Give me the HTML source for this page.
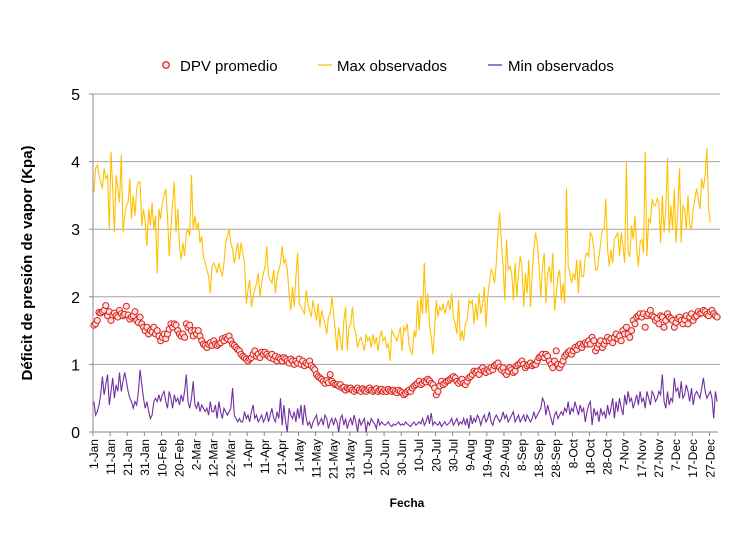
<!DOCTYPE html>
<html><head><meta charset="utf-8"><style>
body{margin:0;background:#fff;}
svg{display:block;font-family:"Liberation Sans","DejaVu Sans",sans-serif;}
</style></head><body>
<svg id="chart" width="732" height="538">
<g id="grid"></g>
<g id="yticks"></g>
<g id="xticks"></g>
<g id="series"></g>
<text x="32" y="263" transform="rotate(-90 32 263)" text-anchor="middle" font-size="15" font-weight="bold">Déficit de presión de vapor (Kpa)</text>
<text x="407" y="507" text-anchor="middle" font-size="12" font-weight="bold">Fecha</text>
<g>
<g><circle cx="166" cy="65" r="3.3" fill="#fde0dc" stroke="#d8201c" stroke-width="1.2"/><text x="180" y="71" font-size="15">DPV promedio</text></g>
<g><line x1="318" y1="65" x2="332" y2="65" stroke="#ffc000" stroke-width="1.3"/><text x="337" y="71" font-size="15">Max observados</text></g>
<g><line x1="488" y1="65" x2="502" y2="65" stroke="#7030a0" stroke-width="1.3"/><text x="508" y="71" font-size="15">Min observados</text></g>
</g>
</svg>
<script>
const yTicks=[0,1,2,3,4,5];
const xLabels=["1-Jan","11-Jan","21-Jan","31-Jan","10-Feb","20-Feb","2-Mar","12-Mar","22-Mar","1-Apr","11-Apr","21-Apr","1-May","11-May","21-May","31-May","10-Jun","20-Jun","30-Jun","10-Jul","20-Jul","30-Jul","9-Aug","19-Aug","29-Aug","8-Sep","18-Sep","28-Sep","8-Oct","18-Oct","28-Oct","7-Nov","17-Nov","27-Nov","7-Dec","17-Dec","27-Dec"];
const maxObs=[3.55,3.9,3.95,3.8,3.7,3.6,3.9,3.75,3.8,3.0,
4.15,3.6,2.95,3.8,3.6,3.4,4.1,2.95,3.2,3.35,
3.4,3.75,3.15,3.5,3.2,3.6,3.7,3.7,3.05,3.3,
3.1,2.75,3.3,3.05,3.4,3.0,3.2,2.35,3.3,3.15,
3.4,3.5,3.6,3.2,2.6,3.0,3.4,3.7,2.95,3.3,
2.75,2.55,2.8,2.6,2.95,3.0,2.9,3.8,3.0,3.2,
3.0,3.1,2.8,2.9,2.6,2.5,2.4,2.3,2.05,2.45,
2.5,2.45,2.35,2.5,2.4,2.3,2.5,2.8,2.9,3.0,
2.8,2.7,2.5,2.65,2.8,2.55,2.8,2.65,2.5,1.9,
2.1,2.25,1.85,2.0,2.1,2.2,2.35,2.0,2.2,2.35,
2.45,2.75,2.3,2.25,2.2,2.4,2.05,2.3,2.4,2.5,
2.75,2.5,2.55,2.4,2.05,1.8,2.15,1.85,2.3,2.65,
1.9,1.85,1.8,1.75,2.1,1.9,1.8,1.7,1.95,1.8,
1.65,1.9,1.55,1.8,1.7,1.6,1.45,1.7,1.75,2.0,
1.75,1.5,1.2,1.55,1.35,1.2,1.65,1.85,1.2,1.55,
1.6,1.85,1.55,1.45,1.25,1.35,1.4,1.3,1.2,1.45,
1.35,1.4,1.25,1.45,1.3,1.4,1.2,1.4,1.5,1.35,
1.4,1.25,1.3,1.05,1.5,1.45,1.4,1.35,1.45,1.55,
1.2,1.55,1.5,1.6,1.3,1.2,1.15,1.5,1.4,1.95,
1.5,2.0,1.75,2.5,1.75,2.05,1.6,1.4,1.15,1.55,
1.95,1.7,1.85,1.8,1.9,1.75,1.85,1.95,1.8,2.05,
1.7,1.6,1.45,1.95,1.35,1.5,1.35,1.6,1.65,1.95,
1.9,1.95,1.6,1.9,1.65,2.05,1.75,1.9,2.15,1.55,
2.0,2.2,2.4,2.35,2.2,2.5,2.95,3.25,2.8,2.45,
1.95,2.85,2.4,2.45,2.35,1.95,2.5,2.0,2.35,2.6,
2.45,1.85,2.35,2.05,2.55,1.85,2.35,2.7,2.95,2.8,
2.45,2.0,2.45,2.65,1.9,2.35,2.45,2.2,2.65,1.8,
2.05,2.3,2.4,1.95,2.2,1.9,3.6,2.45,2.35,2.2,
2.35,2.25,2.55,2.05,2.55,2.3,
2.3,2.6,2.65,2.6,2.95,2.9,2.7,2.4,2.4,2.6,
2.8,3.0,3.0,3.45,2.7,2.45,2.7,2.5,2.85,2.9,
2.95,2.6,2.95,2.75,2.5,4.0,2.65,2.6,3.05,2.85,
3.2,2.7,2.45,2.8,2.85,2.65,4.15,2.6,3.15,3.1,
3.45,3.35,3.35,3.45,3.4,2.8,3.5,2.95,3.3,4.05,
2.95,3.35,3.0,3.6,2.8,3.3,3.9,2.8,3.35,3.3,
3.0,3.5,3.05,3.0,3.3,3.45,3.6,3.45,3.3,3.75,
3.6,3.8,4.2,3.3,3.1];
const dpvAvg=[1.58,1.6,1.65,1.77,1.76,1.78,1.8,1.87,1.72,1.78,
1.65,1.73,1.76,1.72,1.7,1.8,1.75,1.72,1.74,1.86,
1.73,1.67,1.7,1.72,1.78,1.65,1.62,1.7,1.6,1.55,
1.5,1.55,1.45,1.5,1.48,1.55,1.45,1.5,1.42,1.35,
1.4,1.45,1.38,1.45,1.52,1.6,1.55,1.6,1.58,1.5,
1.45,1.42,1.45,1.4,1.6,1.55,1.58,1.5,1.42,1.5,
1.45,1.5,1.42,1.35,1.3,1.28,1.25,1.3,1.32,1.28,
1.35,1.3,1.28,1.3,1.32,1.38,1.35,1.4,1.38,1.42,
1.35,1.3,1.28,1.25,1.22,1.2,1.15,1.12,1.1,1.08,
1.05,1.08,1.1,1.15,1.2,1.12,1.15,1.1,1.18,1.15,
1.18,1.15,1.12,1.1,1.15,1.08,1.12,1.05,1.1,1.08,
1.05,1.1,1.08,1.05,1.02,1.08,1.05,1.0,1.05,1.02,
1.08,1.0,1.05,0.98,1.02,1.0,1.05,0.98,0.95,0.92,
0.85,0.82,0.8,0.78,0.75,0.72,0.76,0.73,0.85,0.75,
0.72,0.7,0.7,0.68,0.7,0.65,0.66,0.62,0.65,0.64,
0.65,0.62,0.6,0.63,0.65,0.62,0.6,0.64,0.62,0.6,
0.63,0.65,0.62,0.6,0.62,0.64,0.6,0.62,0.63,0.6,
0.62,0.6,0.63,0.61,0.6,0.62,0.6,0.58,0.62,0.6,
0.58,0.55,0.57,0.6,0.62,0.6,0.65,0.68,0.7,0.72,
0.75,0.7,0.72,0.75,0.74,0.78,0.76,0.72,0.7,0.65,
0.55,0.6,0.68,0.75,0.7,0.72,0.75,0.76,0.78,0.8,
0.82,0.8,0.75,0.72,0.75,0.78,0.72,0.7,0.75,0.8,
0.82,0.85,0.9,0.88,0.9,0.85,0.92,0.95,0.9,0.88,
0.92,0.9,0.95,0.92,0.98,1.0,1.02,0.96,0.92,0.95,
0.88,0.85,0.9,0.95,0.92,0.88,0.9,0.98,1.0,1.02,
1.05,1.0,0.95,0.98,1.0,1.02,0.98,1.0,1.0,1.05,
1.1,1.12,1.15,1.1,1.15,1.12,1.05,1.0,0.95,1.05,
1.2,1.0,0.95,1.0,1.05,1.12,1.15,1.18,1.2,1.15,
1.2,1.25,1.22,1.28,1.3,1.25,1.3,1.32,1.3,1.35,
1.3,1.4,1.35,1.2,1.25,1.3,1.35,1.25,1.3,1.35,
1.4,1.35,1.38,1.32,1.4,1.45,1.38,1.42,1.35,1.5,
1.45,1.55,1.45,1.4,1.5,1.65,1.6,1.7,1.72,1.75,
1.7,1.75,1.55,1.72,1.75,1.8,1.72,1.7,1.65,1.68,
1.6,1.72,1.7,1.55,1.65,1.75,1.7,1.68,1.65,1.55,
1.62,1.68,1.7,1.65,1.6,1.66,1.72,1.6,1.7,1.75,
1.65,1.7,1.72,1.78,1.75,1.76,1.8,1.78,1.74,1.72,
1.78,1.8,1.75,1.72,1.7];
const minObs=[0.45,0.25,0.3,0.4,0.55,0.82,0.55,0.7,0.85,0.4,
0.6,0.8,0.5,0.7,0.6,0.88,0.6,0.75,0.88,0.75,
0.6,0.5,0.45,0.35,0.45,0.4,0.6,0.92,0.7,0.5,
0.35,0.45,0.3,0.2,0.25,0.45,0.5,0.45,0.55,0.45,
0.55,0.6,0.45,0.35,0.6,0.5,0.35,0.55,0.45,0.5,
0.4,0.55,0.45,0.6,0.85,0.45,0.35,0.5,0.75,0.4,
0.35,0.45,0.3,0.4,0.35,0.3,0.35,0.25,0.45,0.3,
0.3,0.4,0.2,0.45,0.3,0.2,0.35,0.3,0.25,0.3,
0.35,0.65,0.25,0.2,0.15,0.2,0.15,0.15,0.3,0.2,
0.25,0.15,0.3,0.4,0.2,0.25,0.15,0.2,0.25,0.15,
0.2,0.3,0.15,0.25,0.35,0.2,0.15,0.3,0.2,0.5,
0.1,0.4,0.15,0.0,0.35,0.25,0.2,0.3,0.15,0.35,
0.2,0.4,0.1,0.4,0.2,0.1,0.15,0.05,0.15,0.2,
0.25,0.1,0.15,0.2,0.1,0.25,0.2,0.05,0.15,0.2,
0.1,0.2,0.15,0.0,0.2,0.25,0.1,0.2,0.05,0.15,
0.2,0.1,0.25,0.15,0.0,0.2,0.1,0.15,0.2,0.0,
0.15,0.1,0.2,0.15,0.12,0.05,0.2,0.1,0.15,0.12,
0.1,0.12,0.15,0.1,0.08,0.12,0.1,0.12,0.15,0.1,
0.12,0.1,0.15,0.12,0.1,0.08,0.12,0.15,0.1,0.12,
0.15,0.12,0.2,0.1,0.15,0.25,0.12,0.28,0.1,0.15,
0.12,0.1,0.15,0.08,0.12,0.15,0.1,0.12,0.15,0.2,
0.1,0.15,0.2,0.1,0.15,0.12,0.2,0.1,0.2,0.05,
0.25,0.12,0.2,0.15,0.25,0.2,0.1,0.2,0.25,0.15,
0.2,0.3,0.15,0.1,0.2,0.25,0.2,0.15,0.2,0.3,
0.2,0.25,0.15,0.2,0.25,0.3,0.15,0.2,0.25,0.15,
0.2,0.25,0.15,0.25,0.2,0.15,0.2,0.3,0.2,0.25,
0.3,0.35,0.5,0.45,0.25,0.4,0.3,0.2,0.1,0.25,
0.3,0.2,0.25,0.3,0.25,0.35,0.3,0.45,0.25,0.35,
0.3,0.45,0.35,0.25,0.4,0.3,0.35,0.15,0.3,0.4,
0.45,0.1,0.35,0.25,0.3,0.15,0.35,0.25,0.3,0.2,
0.4,0.25,0.35,0.5,0.2,0.45,0.3,0.5,0.35,0.25,
0.55,0.4,0.6,0.45,0.5,0.35,0.45,0.55,0.4,0.6,
0.45,0.5,0.35,0.6,0.5,0.4,0.6,0.55,0.45,0.5,
0.6,0.55,0.85,0.45,0.35,0.6,0.4,0.5,0.45,0.8,
0.6,0.65,0.5,0.75,0.5,0.55,0.7,0.6,0.45,0.65,
0.4,0.55,0.6,0.55,0.5,0.65,0.8,0.6,0.5,0.55,
0.6,0.5,0.2,0.6,0.45];

const NS='http://www.w3.org/2000/svg';
const X0=93,X1=718,Y0=432,Y1=94,N=365;
const xs=i=>X0+(i+0.5)*(X1-X0)/N;
const ys=v=>Y0-(v/5)*(Y0-Y1);
function mk(tag,attrs,parent){const e=document.createElementNS(NS,tag);for(const k in attrs)e.setAttribute(k,attrs[k]);parent.appendChild(e);return e;}
const grid=document.getElementById('grid'),yt=document.getElementById('yticks'),xt=document.getElementById('xticks'),ser=document.getElementById('series');
yTicks.forEach(t=>{
  if(t>0){const g=mk('line',{x1:X0,x2:X1+2,y1:ys(t),y2:ys(t),stroke:'#a6a6a6','stroke-width':1},grid);
  
  }
  const tx=mk('text',{x:80,y:ys(t)+6,'text-anchor':'end','font-size':16},yt);tx.textContent=t;
  
  
  mk('line',{x1:X0-4,x2:X0,y1:ys(t),y2:ys(t),stroke:'#888'},yt);
});
mk('line',{x1:X0,x2:X0,y1:Y1,y2:Y0,stroke:'#888'},yt);
mk('line',{x1:X0,x2:X1,y1:Y0,y2:Y0,stroke:'#888'},xt);
xLabels.forEach((l,k)=>{
  const i=k*10;
  mk('line',{x1:X0+i*(X1-X0)/N,x2:X0+i*(X1-X0)/N,y1:Y0,y2:Y0+4,stroke:'#888'},xt);
  const x=xs(i)+4;
  const tx=mk('text',{x:x,y:Y0+7,'text-anchor':'end','font-size':12,transform:`rotate(-90 ${x} ${Y0+7})`},xt);
  tx.textContent=l;
  
  
});
function line(arr,color,name){
  const d=arr.map((v,i)=>(i?'L':'M')+xs(i).toFixed(1)+','+ys(v).toFixed(1)).join('');
  const p=mk('path',{d:d,fill:'none',stroke:color,'stroke-width':1.1},ser);
  
  
}
line(maxObs,'#ffc000','max-observados-line');
line(minObs,'#7030a0','min-observados-line');
dpvAvg.forEach((v,i)=>{
  const c=mk('circle',{cx:xs(i),cy:ys(v),r:3,fill:'#fde0dc',stroke:'#d8201c','stroke-width':1},ser);
  
  
});
</script>
</body></html>
